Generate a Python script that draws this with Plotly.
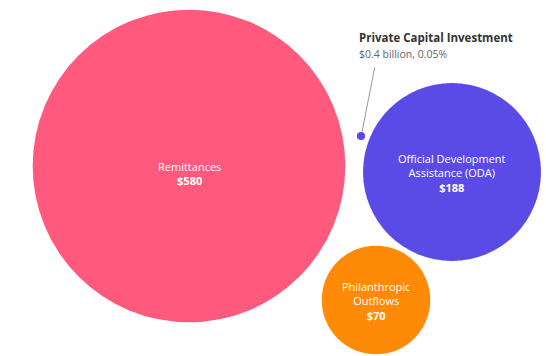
import plotly.graph_objects as go

# Outflows, billions of US dollars
categories = ["Remittances", "Official Development<br>Assistance (ODA)", "Philanthropic<br>Outflows", "Private Capital Investment"]
values = [580, 188, 70, 0.4]
value_labels = ["$580", "$188", "$70", "$0.4 billion, 0.05%"]

# Layout of the packed bubbles (pixel space of the canvas)
W, H = 546, 356
centers_x = [189, 452, 376, 361]
centers_y = [166, 172, 300, 136]
colors = ["#FF5A7E", "#5A4BE6", "#FF8A08", "#5A4BE6"]
ODA_DIAMETER = 178  # px diameter of the ODA bubble; areas scale from it
sizeref = 2.0 * values[1] / ODA_DIAMETER ** 2

fig = go.Figure()
fig.add_trace(go.Scatter(
    x=centers_x, y=centers_y, mode="markers",
    marker=dict(size=values, sizemode="area", sizeref=sizeref,
                color=colors, line=dict(width=0), opacity=1),
    hoverinfo="skip", showlegend=False,
))

# Labels inside the three large bubbles
for i in range(3):
    fig.add_annotation(
        x=centers_x[i], y=centers_y[i] + (7 if i == 0 else 1),
        text=f"{categories[i]}<br><b>{value_labels[i]}</b>",
        showarrow=False, font=dict(family="Open Sans", size=11, color="white"),
        align="center", xanchor="center", yanchor="middle",
    )

# Callout for the tiny private-capital bubble
fig.add_annotation(
    x=centers_x[3] + 1, y=centers_y[3] - 4, ax=375, ay=66,
    axref="x", ayref="y", showarrow=True, arrowhead=0,
    arrowwidth=1, arrowcolor="#9a9a9a", text="",
)
fig.add_annotation(
    x=357, y=37, xanchor="left", yanchor="middle", showarrow=False, align="left",
    text=f"<b>{categories[3]}</b>",
    font=dict(family="Open Sans", size=11.5, color="#333333"),
)
fig.add_annotation(
    x=357, y=54, xanchor="left", yanchor="middle", showarrow=False, align="left",
    text=value_labels[3],
    font=dict(family="Open Sans", size=10.5, color="#666666"),
)

fig.update_layout(
    width=W, height=H, margin=dict(l=0, r=0, t=0, b=0),
    paper_bgcolor="white", plot_bgcolor="white",
    xaxis=dict(range=[0, W], visible=False, fixedrange=True),
    yaxis=dict(range=[H, 0], visible=False, fixedrange=True),
)

fig.write_html("out.html", config={"displayModeBar": False})
